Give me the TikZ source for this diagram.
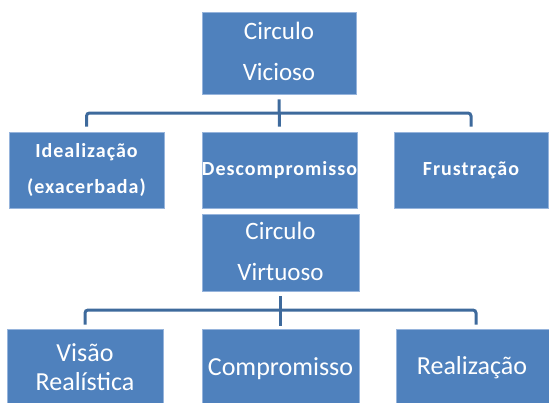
\documentclass[tikz,border=0pt]{standalone}
\usepackage{fontspec}
\usetikzlibrary{calc}
\setmainfont{Carlito}
\newfontfamily\rowfont[LetterSpace=5]{Carlito}
\definecolor{boxblue}{RGB}{79,129,189}
\definecolor{lineblue}{RGB}{62,106,156}
\definecolor{edgeblue}{RGB}{150,180,220}
\tikzset{
  box/.style={rectangle, fill=boxblue, draw=edgeblue, line width=0.6pt, text=white,
    align=center, inner sep=0pt, anchor=center},
  bigtxt/.style={font=\fontsize{25}{41}\selectfont},
  midtxt/.style={font=\rowfont\bfseries\fontsize{20}{36}\selectfont},
  lowtxt/.style={font=\fontsize{26}{29}\selectfont},
  conn/.style={draw=lineblue, line width=3pt},
  drop/.style={draw=lineblue, line width=3pt, rounded corners=3pt},
}
\begin{document}
\begin{tikzpicture}[x=1pt, y=-1pt]
\useasboundingbox (0,0) rectangle (549,402);
% top group
\node[box, bigtxt, minimum width=154pt, minimum height=82pt] (vic) at (279,53) {};
\node[text=white, bigtxt, align=center, inner sep=0pt] (victxt) at (279,51) {Circulo\\Vicioso};
\node[box, midtxt, minimum width=155pt, minimum height=76pt] (ideal) at (86.5,170) {Idealização\\(exacerbada)};
\node[box, midtxt, minimum width=155pt, minimum height=76pt] (desc) at (279.5,170) {Descompromisso};
\node[box, midtxt, minimum width=154pt, minimum height=76pt] (frus) at (471,170) {Frustração};
\coordinate (bar1) at ($(vic.south)!0.5!(desc.north)$);
\draw[conn] ([yshift=-5pt]vic.south) -- ([yshift=5pt]desc.north);
\draw[drop] ([yshift=5pt]ideal.north) |- (bar1) -| ([yshift=5pt]frus.north);
% bottom group
\node[box, minimum width=157pt, minimum height=77pt] (vir) at (280.5,252.5) {};
\node[text=white, bigtxt, align=center, inner sep=0pt] (virtxt) at (280.5,251) {Circulo\\Virtuoso};
\node[box, minimum width=156pt, minimum height=80pt] (vis) at (85,369) {};
\node[text=white, lowtxt, align=center, inner sep=0pt] (vistxt) at (85,367) {Visão\\Realística};
\node[box, lowtxt, minimum width=157pt, minimum height=80pt] (comp) at (280.5,369) {Compromisso};
\node[box, minimum width=160pt, minimum height=80pt] (real) at (476,369) {};
\node[text=white, lowtxt, inner sep=0pt] (realtxt) at (472,368) {Realização};
\coordinate (bar2) at ($(vir.south)!0.5!(comp.north)$);
\draw[conn] ([yshift=-5pt]vir.south) -- ([yshift=3pt]comp.north);
\draw[drop] ([yshift=4pt]vis.north) |- (bar2) -| ([yshift=4pt]real.north);
\end{tikzpicture}
\end{document}
